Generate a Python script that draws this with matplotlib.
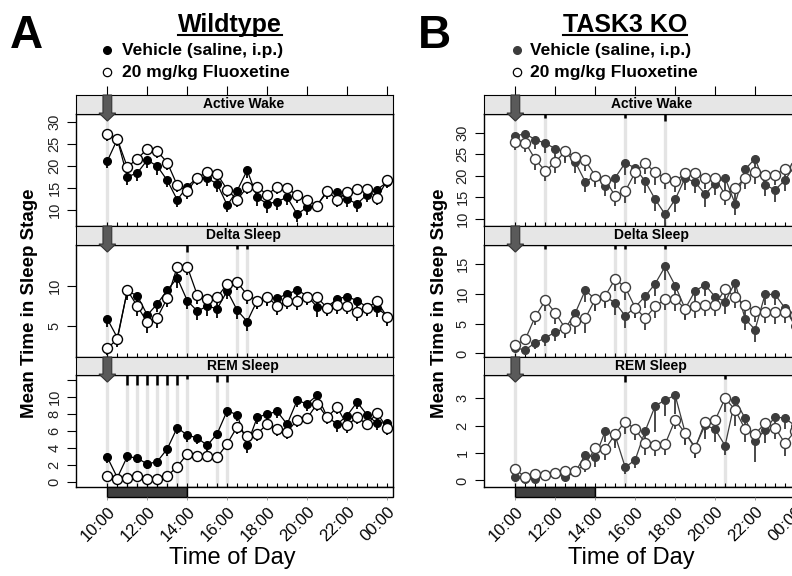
import numpy as np
import matplotlib
matplotlib.use("Agg")
import matplotlib.pyplot as plt
from matplotlib.patches import Rectangle, Polygon
from matplotlib.lines import Line2D

plt.rcParams['font.family'] = ['Liberation Sans', 'DejaVu Sans']

# ---- data (30 min bins) ----
times = ["10:00", "10:30", "11:00", "11:30", "12:00", "12:30", "13:00", "13:30",
         "14:00", "14:30", "15:00", "15:30", "16:00", "16:30", "17:00", "17:30",
         "18:00", "18:30", "19:00", "19:30", "20:00", "20:30", "21:00", "21:30",
         "22:00", "22:30", "23:00", "23:30", "00:00"]
tick_labels = ["10:00", "12:00", "14:00", "16:00", "18:00", "20:00", "22:00", "00:00"]
injection = "10:00"
dark_start, dark_end = "10:00", "14:00"

stages = ["Active Wake", "Delta Sleep", "REM Sleep"]
groups = ["Wildtype", "TASK3 KO"]
legend_labels = ["Vehicle (saline, i.p.)", "20 mg/kg Fluoxetine"]

# Wildtype
wt_wake_veh = [21.1, 26.0, 17.5, 18.4, 21.3, 19.9, 16.7, 12.3, 15.3, 17.3, 17.2, 15.9, 11.1, 14.4, 19.0,
               12.9, 11.4, 11.9, 12.9, 9.1, 10.6, 11.2, 14.0, 14.1, 12.5, 11.4, 13.5, 14.6, 16.3]
wt_wake_flx = [27.1, 26.0, 19.7, 21.6, 23.8, 23.3, 20.7, 15.6, 14.3, 17.3, 18.6, 18.1, 14.6, 12.3, 15.2,
               15.2, 13.5, 15.2, 15.0, 13.3, 12.3, 11.0, 14.4, 12.3, 14.0, 14.8, 14.8, 12.7, 16.7]
wt_wake_veh_sem = [1.6, 1.5, 1.9, 1.8, 1.7, 1.9, 1.6, 1.7, 1.5, 1.6, 1.8, 1.9, 1.6, 1.5, 1.7,
                   1.9, 2.0, 1.9, 1.8, 1.9, 1.7, 1.5, 1.6, 1.8, 1.7, 1.9, 1.6, 1.5, 1.4]
wt_wake_flx_sem = [1.4, 1.3, 1.6, 1.5, 1.4, 1.5, 1.6, 1.5, 1.7, 1.3, 1.5, 1.4, 1.6, 1.7, 1.6,
                   1.5, 1.4, 1.5, 1.6, 1.7, 1.6, 1.5, 1.4, 1.5, 1.6, 1.5, 1.4, 1.6, 1.5]

wt_delta_veh = [5.9, 3.6, 9.4, 8.8, 6.4, 7.8, 9.5, 11.0, 8.2, 6.9, 7.5, 7.2, 9.4, 7.0, 5.6,
                8.2, 8.6, 8.5, 9.0, 9.5, 8.8, 7.4, 7.4, 8.4, 8.7, 8.2, 7.4, 7.3, 6.3]
wt_delta_flx = [2.3, 3.4, 9.5, 7.5, 5.5, 6.1, 8.5, 12.4, 12.4, 8.9, 8.4, 8.6, 10.3, 10.5, 8.9,
                8.2, 8.7, 7.5, 8.1, 8.1, 8.7, 8.6, 7.3, 7.6, 7.5, 6.8, 7.3, 8.1, 6.2]
wt_delta_veh_sem = [1.0, 0.9, 1.1, 1.2, 1.1, 1.0, 1.1, 1.2, 1.0, 1.1, 1.2, 1.1, 1.0, 1.1, 1.2,
                    1.0, 1.1, 1.0, 1.0, 1.1, 1.0, 1.2, 1.0, 1.1, 1.0, 1.1, 1.0, 1.1, 1.0]
wt_delta_flx_sem = [0.8, 0.9, 1.0, 1.2, 1.3, 1.3, 1.1, 1.0, 1.0, 1.1, 1.0, 1.0, 1.1, 1.0, 1.1,
                    1.0, 1.0, 1.1, 1.0, 1.1, 1.0, 1.0, 1.0, 1.1, 1.0, 1.1, 1.0, 1.0, 1.1]

wt_rem_veh = [2.9, 0.5, 3.0, 2.8, 2.1, 2.4, 3.9, 6.4, 5.5, 5.2, 4.3, 5.7, 8.4, 7.9, 4.4,
              7.6, 8.0, 8.3, 6.8, 9.6, 9.2, 10.2, 7.7, 6.8, 7.8, 9.4, 7.9, 6.9, 7.0]
wt_rem_flx = [0.7, 0.3, 0.5, 0.7, 0.4, 0.4, 0.7, 1.8, 3.3, 3.1, 3.0, 2.9, 4.5, 6.5, 5.4,
              5.7, 6.8, 6.2, 5.9, 7.3, 7.5, 9.2, 7.6, 8.8, 6.7, 7.6, 6.8, 8.1, 6.4]
wt_rem_veh_sem = [0.7, 0.5, 0.7, 0.6, 0.6, 0.7, 0.8, 0.7, 0.8, 0.7, 0.8, 0.7, 0.8, 0.7, 1.0,
                  0.8, 0.7, 0.8, 0.7, 0.8, 0.8, 0.7, 0.8, 0.9, 0.8, 0.8, 0.7, 0.8, 0.8]
wt_rem_flx_sem = [0.3, 0.3, 0.3, 0.3, 0.3, 0.3, 0.4, 0.5, 0.5, 0.5, 0.5, 0.6, 0.7, 0.8, 0.8,
                  0.9, 0.7, 0.8, 0.8, 0.8, 0.7, 0.8, 0.8, 0.8, 0.9, 0.8, 0.7, 0.8, 0.9]

# TASK3 KO
ko_wake_veh = [29.3, 29.8, 28.4, 27.6, 26.3, 25.5, 23.2, 18.6, 20.0, 17.7, 19.6, 23.0, 21.8, 18.7, 14.5,
               11.0, 14.5, 19.5, 18.5, 15.7, 18.2, 19.5, 13.5, 21.5, 24.0, 17.9, 16.7, 19.0, 22.5]
ko_wake_flx = [27.9, 27.7, 23.8, 21.1, 23.2, 25.7, 24.4, 23.6, 20.0, 19.0, 15.3, 16.4, 20.8, 22.9, 20.8,
               19.5, 18.7, 20.6, 20.6, 19.5, 19.5, 15.6, 17.1, 19.5, 20.8, 20.3, 20.3, 21.5, 22.0]
ko_wake_veh_sem = [2.0, 1.8, 2.2, 2.4, 2.3, 2.5, 2.6, 2.4, 2.2, 2.5, 2.7, 2.8, 2.5, 2.6, 2.8,
                   2.6, 2.9, 2.7, 2.6, 3.0, 2.7, 2.8, 2.6, 2.5, 2.4, 2.6, 2.7, 2.5, 2.4]
ko_wake_flx_sem = [2.0, 2.2, 2.5, 2.4, 2.6, 2.3, 2.4, 2.5, 2.6, 2.5, 2.4, 2.8, 2.7, 2.5, 2.9,
                   2.6, 2.5, 2.7, 2.8, 2.6, 2.5, 2.4, 2.9, 2.5, 2.6, 2.5, 2.4, 2.6, 2.5]

ko_delta_veh = [0.9, 0.6, 1.8, 2.6, 3.6, 4.2, 6.8, 10.6, 9.1, 9.5, 8.5, 6.3, 7.8, 9.6, 11.7,
                14.6, 11.4, 7.5, 10.5, 11.5, 9.5, 8.7, 11.9, 5.8, 4.0, 9.9, 9.9, 7.6, 4.6]
ko_delta_flx = [1.4, 2.4, 6.2, 8.9, 6.8, 4.2, 5.4, 5.9, 9.1, 9.7, 12.5, 11.1, 7.7, 5.9, 7.9,
                9.1, 9.1, 7.5, 7.9, 8.1, 8.1, 10.8, 9.5, 8.1, 7.1, 6.9, 6.9, 6.9, 6.5]
ko_delta_veh_sem = [0.6, 0.7, 1.0, 1.3, 1.5, 1.6, 1.8, 2.0, 1.9, 1.8, 2.0, 2.1, 1.8, 1.9, 2.0,
                    2.2, 2.0, 1.9, 2.0, 1.8, 1.9, 2.0, 1.8, 1.9, 2.1, 1.8, 1.7, 1.9, 2.0]
ko_delta_flx_sem = [0.7, 1.0, 1.5, 1.8, 1.9, 1.6, 2.2, 2.4, 1.9, 1.8, 2.0, 2.1, 1.8, 2.0, 1.9,
                    1.8, 1.9, 1.8, 1.9, 1.8, 1.9, 2.0, 1.9, 1.8, 1.9, 1.8, 1.9, 1.8, 1.9]

ko_rem_veh = [0.12, 0.04, 0.06, 0.18, 0.24, 0.12, 0.30, 0.94, 0.85, 1.81, 1.63, 0.48, 0.75, 1.81, 2.72,
              2.94, 3.11, 1.75, 1.21, 2.02, 1.87, 1.27, 2.94, 2.27, 1.43, 1.85, 2.32, 2.27, 2.00]
ko_rem_flx = [0.40, 0.12, 0.22, 0.21, 0.28, 0.33, 0.34, 0.60, 1.17, 1.15, 1.69, 2.15, 1.87, 1.37, 1.29,
              1.33, 2.21, 1.73, 1.18, 2.14, 2.20, 3.00, 2.58, 1.87, 1.69, 2.09, 1.93, 1.35, 1.80]
ko_rem_veh_sem = [0.10, 0.08, 0.12, 0.10, 0.10, 0.12, 0.15, 0.40, 0.35, 0.40, 0.45, 0.25, 0.30, 0.50, 0.95,
                  0.60, 0.70, 0.45, 0.40, 0.50, 0.45, 0.35, 0.45, 0.50, 0.75, 0.50, 0.45, 0.40, 0.45]
ko_rem_flx_sem = [0.12, 0.08, 0.10, 0.08, 0.10, 0.10, 0.15, 0.30, 0.35, 0.40, 0.40, 0.45, 0.40, 0.45, 0.40,
                  0.40, 0.35, 0.40, 0.35, 0.40, 0.40, 0.50, 0.60, 0.45, 0.40, 0.45, 0.40, 0.45, 0.40]

# significant bins (level 1..3 -> marker length)
wt_wake_sig, wt_wake_lev = [], []
wt_delta_sig, wt_delta_lev = ["14:00", "16:30", "17:00"], [2, 1, 1]
wt_rem_sig = ["11:00", "11:30", "12:00", "12:30", "13:00", "13:30", "14:00", "15:30", "16:00"]
wt_rem_lev = [3, 3, 3, 3, 3, 3, 1, 2, 2]
ko_wake_sig, ko_wake_lev = ["11:30", "15:30", "17:30"], [1, 1, 2]
ko_delta_sig, ko_delta_lev = ["11:30", "15:00", "15:30", "17:30"], [1, 1, 1, 1]
ko_rem_sig, ko_rem_lev = ["15:30", "20:30"], [2, 1]


def hrs(t):
    h, m = int(t[:2]), int(t[3:])
    if h < 10:
        h += 24
    return h + m / 60


x = np.array([hrs(t) for t in times])
major = [hrs(t) for t in tick_labels]
xlim = (8.43, 24.3)

W, H = 792, 576
fig = plt.figure(figsize=(W / 100, H / 100), dpi=100)


def rect(x0, top, w, h):
    return [x0 / W, 1 - (top + h) / H, w / W, h / H]


strips = [(95, 19), (226, 19), (357, 18)]
panels = [(114, 112), (245, 112), (375, 112)]

wt = {
    "Active Wake": (wt_wake_veh, wt_wake_flx, wt_wake_veh_sem, wt_wake_flx_sem, wt_wake_sig, wt_wake_lev,
                    (6.4, 31.7), [10, 15, 20, 25, 30], ["10", "15", "20", "25", "30"]),
    "Delta Sleep": (wt_delta_veh, wt_delta_flx, wt_delta_veh_sem, wt_delta_flx_sem, wt_delta_sig, wt_delta_lev,
                    (1.2, 15.1), [5, 10], ["5", "10"]),
    "REM Sleep": (wt_rem_veh, wt_rem_flx, wt_rem_veh_sem, wt_rem_flx_sem, wt_rem_sig, wt_rem_lev,
                  (-0.6, 12.6), [0, 2, 4, 6, 8, 10, 12], ["0", "2", "4", "6", "8", "10", ""]),
}
ko = {
    "Active Wake": (ko_wake_veh, ko_wake_flx, ko_wake_veh_sem, ko_wake_flx_sem, ko_wake_sig, ko_wake_lev,
                    (8.3, 34.4), [10, 15, 20, 25, 30], ["10", "15", "20", "25", "30"]),
    "Delta Sleep": (ko_delta_veh, ko_delta_flx, ko_delta_veh_sem, ko_delta_flx_sem, ko_delta_sig, ko_delta_lev,
                    (-0.6, 18.2), [0, 5, 10, 15], ["0", "5", "10", "15"]),
    "REM Sleep": (ko_rem_veh, ko_rem_flx, ko_rem_veh_sem, ko_rem_flx_sem, ko_rem_sig, ko_rem_lev,
                  (-0.24, 3.85), [0, 1, 2, 3], ["0", "1", "2", "3"]),
}


def draw_group(x0, data, col):
    for i, stage in enumerate(stages):
        veh, flx, vsem, fsem, sig, lev, ylim, yt, ytl = data[stage]
        veh, flx = np.array(veh), np.array(flx)
        vsem, fsem = np.array(vsem), np.array(fsem)
        ph = panels[i][1]

        ax = fig.add_axes(rect(x0, panels[i][0], 317, ph))
        ax.set_xlim(xlim)
        ax.set_ylim(ylim)
        # injection + significant bins
        for h in [hrs(injection)] + [hrs(s) for s in sig]:
            ax.axvline(h, color='#e4e4e4', lw=2.4, zorder=0)
        for s, l in zip(sig, lev):
            ax.vlines(hrs(s), 1 - (1 + 3 * l) / ph, 1, color='black', lw=1.8,
                      transform=ax.get_xaxis_transform(), clip_on=False, zorder=5)
        ax.vlines(x, veh - vsem, veh, color=col, lw=1.3, zorder=2)
        ax.vlines(x, flx - fsem, flx, color=col, lw=1.3, zorder=2)
        ax.plot(x, veh, '-o', color=col, mfc=col, mec=col, ms=5.5, lw=0.9, zorder=3)
        ax.plot(x, flx, '-o', color=col, mfc='white', mec=col, ms=7.2, mew=1.0, lw=0.9, zorder=4)

        ax.set_xticks([])
        ax.set_xticks(x, minor=True)
        ax.tick_params(axis='x', which='minor', direction='in', length=3, width=0.8)
        ax.set_yticks(yt)
        ax.set_yticklabels(ytl)
        ax.tick_params(axis='y', direction='out', length=6.5, width=0.8, pad=4,
                       labelsize=10.5, labelrotation=90, labelcolor='#222222')
        for lab in ax.get_yticklabels():
            lab.set_va('center')
        for sp in ax.spines.values():
            sp.set_linewidth(1.0)

        # strip
        st = fig.add_axes(rect(x0, strips[i][0], 317, strips[i][1]))
        st.set_zorder(3)
        st.set_xlim(xlim)
        st.set_ylim(0, 1)
        st.set_facecolor('#e6e6e6')
        st.set_yticks([])
        if i == 0:
            st.set_xticks(major)
            st.tick_params(axis='x', top=True, bottom=False, labeltop=False, labelbottom=False,
                           direction='out', length=6.5, width=0.8)
        else:
            st.set_xticks([])
        st.text(16.8, 0.5, stage, ha='center', va='center', fontsize=10, fontweight='bold')
        hx = hrs(injection)
        sh = strips[i][1]
        arrow = Polygon([(hx - 0.22, 1), (hx + 0.22, 1), (hx + 0.22, 0.05), (hx + 0.42, 0.05),
                         (hx, 0.05 - 8 / sh), (hx - 0.42, 0.05), (hx - 0.22, 0.05)],
                        closed=True, fc='#5a5a5a', ec='#333333', lw=0.8, clip_on=False, zorder=10)
        st.add_patch(arrow)

    # light/dark bar
    bar = fig.add_axes(rect(x0, 487, 317, 10))
    bar.set_xlim(xlim)
    bar.set_ylim(0, 1)
    for sp in bar.spines.values():
        sp.set_visible(False)
    bar.patch.set_alpha(0)
    bar.add_patch(Rectangle((hrs(dark_start), 0), hrs(dark_end) - hrs(dark_start), 1,
                            fc='#404040', ec='black', lw=1, clip_on=False))
    bar.add_patch(Rectangle((hrs(dark_end), 0), xlim[1] - hrs(dark_end), 1,
                            fc='white', ec='black', lw=1, clip_on=False))
    bar.set_yticks([])
    bar.set_xticks(major)
    bar.set_xticklabels(tick_labels, rotation=45, ha='right', rotation_mode='anchor', fontsize=12)
    bar.tick_params(axis='x', length=2, width=0.6, color='#888888', pad=3)


draw_group(76, wt, 'black')
draw_group(484, ko, '#3c3c3c')

# figure annotations
def fx(px):
    return px / W


def fy(py):
    return 1 - py / H


for letter, lx, title, tx, mx, tcx, col in [("A", 10, "Wildtype", 230, 107, 122, 'black'),
                                              ("B", 418, "TASK3 KO", 625, 517, 530, '#3c3c3c')]:
    fig.text(fx(lx), fy(48), letter, fontsize=33, fontweight='bold', ha='left', va='baseline')
    t = fig.text(fx(tx), fy(32), title, fontsize=18, fontweight='bold', ha='center', va='baseline')
    fig.canvas.draw()
    bb = t.get_window_extent(fig.canvas.get_renderer())
    fig.add_artist(Line2D([bb.x0 / W, bb.x1 / W], [fy(34.5), fy(34.5)], color='black', lw=1.5))
    fig.add_artist(Line2D([fx(mx)], [fy(50)], marker='o', ms=5.5, color=col, mfc=col, mec=col))
    fig.add_artist(Line2D([fx(mx)], [fy(72)], marker='o', ms=6, color='black', mfc='white', mec='black', mew=0.9))
    fig.text(fx(tcx), fy(50), legend_labels[0], fontsize=12.5, fontweight='bold', ha='left', va='center')
    fig.text(fx(tcx), fy(72), legend_labels[1], fontsize=12.5, fontweight='bold', ha='left', va='center')

fig.text(fx(30), fy(303), "Mean Time in Sleep Stage", rotation=90, fontsize=13.5, fontweight='bold',
         ha='center', va='center')
fig.text(fx(440), fy(303), "Mean Time in Sleep Stage", rotation=90, fontsize=13.5, fontweight='bold',
         ha='center', va='center')
fig.text(fx(232), fy(558), "Time of Day", fontsize=17, ha='center', va='center')
fig.text(fx(631), fy(558), "Time of Day", fontsize=17, ha='center', va='center')

fig.savefig("out.png", dpi=100)
